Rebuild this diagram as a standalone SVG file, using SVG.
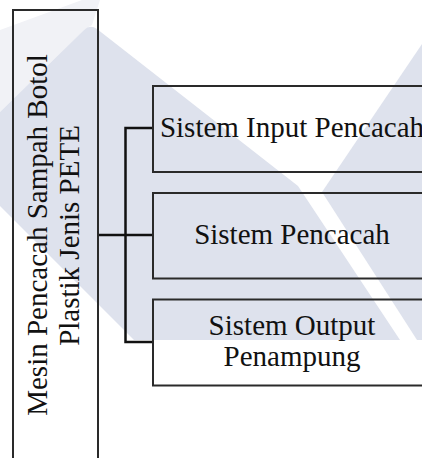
<svg xmlns="http://www.w3.org/2000/svg" width="422" height="458" viewBox="0 0 422 458">
  <style>
    .wm { fill: #dee2ed; }
    .wm-faint { fill: #f1f2f6; }
    .box { fill: none; stroke: #2a2a2a; stroke-width: 2; }
    .conn { fill: none; stroke: #111; stroke-width: 2.5; }
    .lbl { font-family: "Liberation Serif", "Times New Roman", serif; font-size: 29px; fill: #111; text-anchor: middle; }
  </style>
  <rect width="422" height="458" fill="#ffffff"/>
  <g id="watermark">
    <polygon class="wm-faint" points="0,30 82,0 100,0 92,25 84,30 0,112"/>
    <path class="wm" d="M0,112 L84,30 Q90,24 97,29 L298,186 L400,340 L134,340 L0,206 Z"/>
    <polygon class="wm" points="422,44 322,192 417,340 422,340"/>
  </g>
  <g id="connectors">
    <line class="conn" x1="98" y1="235" x2="126" y2="235" stroke-width="3"/>
    <polyline class="conn" points="153,128 125.5,128 125.5,342 153,342"/>
    <line class="conn" x1="125.5" y1="235" x2="153" y2="235"/>
  </g>
  <g id="node-main">
    <rect class="box" x="13" y="10" width="85" height="470"/>
    <text class="lbl" transform="translate(47,235) rotate(-90)">Mesin Pencacah Sampah Botol</text>
    <text class="lbl" transform="translate(78.5,235.5) rotate(-90)">Plastik Jenis PETE</text>
  </g>
  <g id="node-input">
    <rect class="box" x="153" y="86" width="290" height="86"/>
    <text class="lbl" x="292" y="137">Sistem Input Pencacah</text>
  </g>
  <g id="node-pencacah">
    <rect class="box" x="153" y="193" width="290" height="85.5"/>
    <text class="lbl" x="292" y="243.5">Sistem Pencacah</text>
  </g>
  <g id="node-output">
    <rect class="box" x="153" y="299.5" width="290" height="86"/>
    <text class="lbl" x="292" y="334.5">Sistem Output</text>
    <text class="lbl" x="292" y="366">Penampung</text>
  </g>
</svg>
